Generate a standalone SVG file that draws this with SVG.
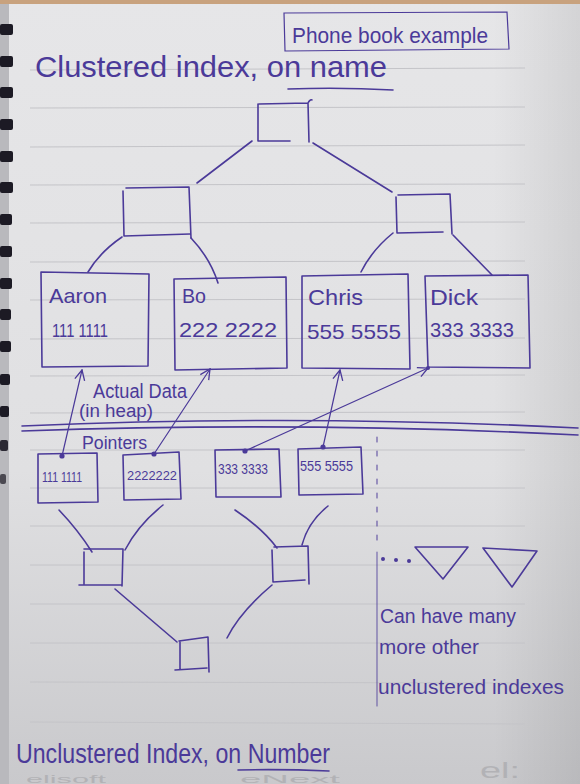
<svg xmlns="http://www.w3.org/2000/svg" width="580" height="784" viewBox="0 0 580 784">
<defs>
<linearGradient id="paper" x1="0" y1="0" x2="0" y2="1">
<stop offset="0" stop-color="#e6e6e8"/>
<stop offset="0.6" stop-color="#e0e0e2"/>
<stop offset="1" stop-color="#c9c9cc"/>
</linearGradient>
<linearGradient id="edge" x1="0" y1="0" x2="1" y2="0">
<stop offset="0" stop-color="#000" stop-opacity="0"/>
<stop offset="0.85" stop-color="#000" stop-opacity="0"/>
<stop offset="1" stop-color="#000" stop-opacity="0.08"/>
</linearGradient>
<marker id="arr" viewBox="0 0 12 12" refX="11" refY="6" markerWidth="12" markerHeight="12" markerUnits="userSpaceOnUse" orient="auto">
<path d="M1 1 L11 6 L1 11" fill="none" stroke="#4b3a99" stroke-width="1.3"/>
</marker>
<style>
.ink{fill:none;stroke:#4b3a99;stroke-width:1.6;stroke-linecap:round;stroke-linejoin:round}
.thin{fill:none;stroke:#4b3a99;stroke-width:1.2;stroke-linecap:round}
.t{font-family:"Liberation Sans Narrow","Liberation Sans",sans-serif;fill:#4b3a99}
.rule{stroke:#c4c4c8;stroke-width:1}
.hole{fill:#1c1a24}
.wm{font-family:"Liberation Sans",sans-serif;fill:#9c9ca0;opacity:0.5}
.dot{fill:#4b3a99}
</style>
</defs>
<rect x="0" y="0" width="580" height="784" fill="url(#paper)"/>
<rect x="0" y="0" width="580" height="784" fill="url(#edge)"/>
<rect x="0" y="0" width="9" height="784" fill="#b9b9bd"/>
<rect x="0" y="0" width="580" height="4" fill="#c8a27e"/>
<g id="rules">
<line class="rule" x1="30" y1="70" x2="525" y2="68"/>
<line class="rule" x1="30" y1="108" x2="525" y2="107"/>
<line class="rule" x1="30" y1="147" x2="525" y2="145"/>
<line class="rule" x1="30" y1="185" x2="525" y2="184"/>
<line class="rule" x1="30" y1="223" x2="525" y2="222"/>
<line class="rule" x1="30" y1="262" x2="525" y2="261"/>
<line class="rule" x1="30" y1="300" x2="525" y2="299"/>
<line class="rule" x1="30" y1="339" x2="525" y2="338"/>
<line class="rule" x1="30" y1="376" x2="525" y2="375"/>
<line class="rule" x1="30" y1="413" x2="525" y2="412"/>
<line class="rule" x1="30" y1="450" x2="525" y2="450"/>
<line class="rule" x1="30" y1="488" x2="525" y2="488"/>
<line class="rule" x1="30" y1="526" x2="525" y2="526"/>
<line class="rule" x1="30" y1="565" x2="525" y2="565"/>
<line class="rule" x1="30" y1="604" x2="525" y2="604"/>
<line class="rule" x1="30" y1="643" x2="525" y2="643"/>
<line class="rule" x1="30" y1="682" x2="525" y2="683"/>
<line class="rule" x1="30" y1="722" x2="525" y2="724"/>
</g>
<g id="spiral">
<rect class="hole" x="0" y="24" width="13" height="11" rx="2"/>
<rect class="hole" x="0" y="56" width="13" height="11" rx="2"/>
<rect class="hole" x="0" y="87" width="13" height="11" rx="2"/>
<rect class="hole" x="0" y="119" width="13" height="11" rx="2"/>
<rect class="hole" x="0" y="151" width="13" height="11" rx="2"/>
<rect class="hole" x="0" y="182" width="13" height="11" rx="2"/>
<rect class="hole" x="0" y="214" width="12" height="11" rx="2"/>
<rect class="hole" x="0" y="246" width="12" height="11" rx="2"/>
<rect class="hole" x="0" y="278" width="12" height="11" rx="2"/>
<rect class="hole" x="0" y="309" width="11" height="11" rx="2"/>
<rect class="hole" x="0" y="341" width="11" height="11" rx="2"/>
<rect class="hole" x="0" y="374" width="10" height="11" rx="2"/>
<rect class="hole" x="0" y="406" width="9" height="11" rx="2"/>
<rect class="hole" x="0" y="440" width="8" height="11" rx="2" opacity="0.9"/>
<rect class="hole" x="0" y="474" width="6" height="10" rx="2" opacity="0.7"/>
</g>
<g id="title">
<path class="thin" d="M284 13 L507 12 L509 49 L285 51 Z"/>
<text class="t" x="292" y="43" font-size="22" textLength="196" lengthAdjust="spacingAndGlyphs">Phone book example</text>
</g>
<g id="heading-clustered">
<text class="t" x="35" y="77" font-size="29" textLength="352" lengthAdjust="spacingAndGlyphs">Clustered index, on name</text>
<path class="ink" d="M288 89 Q340 87 393 90"/>
</g>
<g id="connectors">
<path class="ink" d="M252 141 L197 183"/>
<path class="ink" d="M313 143 L392 192"/>
<path class="ink" d="M122 237 Q100 252 88 272"/>
<path class="ink" d="M191 238 Q210 258 218 283"/>
<path class="ink" d="M393 233 Q372 250 361 272"/>
<path class="ink" d="M453 235 L492 275"/>
<path class="thin" d="M62 456 L82 370" marker-end="url(#arr)"/>
<path class="thin" d="M154 454 L210 369" marker-end="url(#arr)"/>
<path class="thin" d="M245 451 L428 368" marker-end="url(#arr)"/>
<path class="thin" d="M323 447 L340 370" marker-end="url(#arr)"/>
<circle class="dot" cx="62" cy="456" r="2.6"/>
<circle class="dot" cx="154" cy="454" r="2.6"/>
<circle class="dot" cx="245" cy="451" r="2.6"/>
<circle class="dot" cx="323" cy="447" r="2.6"/>
<circle class="dot" cx="428" cy="368" r="2"/>
<path class="ink" d="M59 510 Q78 530 92 552"/>
<path class="ink" d="M163 505 Q138 525 125 550"/>
<path class="ink" d="M235 510 Q262 528 277 548"/>
<path class="ink" d="M328 506 Q308 522 302 545"/>
<path class="ink" d="M115 589 L177 642"/>
<path class="ink" d="M272 585 Q240 612 227 638"/>
</g>
<g id="root">
<path class="ink" d="M259 104 L308 103 L309 142 M308 103 Q310 99 312 100 M258 104 L258 141 L290 141"/>
</g>
<g id="inner-left">
<path class="ink" d="M126 188 L189 187 L191 238 M123 191 L124 236 L190 234"/>
</g>
<g id="inner-right">
<path class="ink" d="M398 195 L450 194 L452 234 M396 197 L397 233 L443 232"/>
</g>
<g id="leaf-aaron">
<path class="ink" d="M41 272 L149 274 L148 366 L42 367 Z"/>
<text class="t" x="49" y="303" font-size="21" textLength="58" lengthAdjust="spacingAndGlyphs">Aaron</text>
<text class="t" x="52" y="337" font-size="19" textLength="56" lengthAdjust="spacingAndGlyphs">111 1111</text>
</g>
<g id="leaf-bo">
<path class="ink" d="M174 279 L286 277 L287 368 L175 370 Z"/>
<text class="t" x="182" y="303" font-size="21" textLength="24" lengthAdjust="spacingAndGlyphs">Bo</text>
<text class="t" x="179" y="337" font-size="20" textLength="98" lengthAdjust="spacingAndGlyphs">222 2222</text>
</g>
<g id="leaf-chris">
<path class="ink" d="M302 276 L408 274 L410 369 L302 368 Z"/>
<text class="t" x="308" y="305" font-size="22" textLength="55" lengthAdjust="spacingAndGlyphs">Chris</text>
<text class="t" x="307" y="339" font-size="21" textLength="94" lengthAdjust="spacingAndGlyphs">555 5555</text>
</g>
<g id="leaf-dick">
<path class="ink" d="M425 276 L528 275 L530 368 L428 367 Z"/>
<text class="t" x="430" y="305" font-size="22" textLength="48" lengthAdjust="spacingAndGlyphs">Dick</text>
<text class="t" x="430" y="337" font-size="20" textLength="84" lengthAdjust="spacingAndGlyphs">333 3333</text>
</g>
<g id="label-actual-data">
<text class="t" x="93" y="398" font-size="20" textLength="94" lengthAdjust="spacingAndGlyphs">Actual Data</text>
<text class="t" x="79" y="417" font-size="18" textLength="74" lengthAdjust="spacingAndGlyphs">(in heap)</text>
</g>
<g id="divider">
<path class="ink" d="M22 426 Q300 414 578 428"/>
<path class="ink" d="M22 431 Q300 421 578 435"/>
</g>
<g id="label-pointers">
<text class="t" x="82" y="449" font-size="18" textLength="65" lengthAdjust="spacingAndGlyphs">Pointers</text>
</g>
<g id="ptr-1">
<path class="ink" d="M38 454 L97 453 L98 502 L38 503 Z"/>
<text class="t" x="42" y="482" font-size="14" textLength="40" lengthAdjust="spacingAndGlyphs">111 1111</text>
</g>
<g id="ptr-2">
<path class="ink" d="M123 455 L179 452 L181 499 L124 500 Z"/>
<text class="t" x="127" y="480" font-size="13" textLength="50" lengthAdjust="spacingAndGlyphs">2222222</text>
</g>
<g id="ptr-3">
<path class="ink" d="M215 450 L279 449 L281 497 L216 497 Z"/>
<text class="t" x="218" y="474" font-size="14" textLength="50" lengthAdjust="spacingAndGlyphs">333 3333</text>
</g>
<g id="ptr-4">
<path class="ink" d="M298 449 L361 447 L363 494 L299 495 Z"/>
<text class="t" x="300" y="471" font-size="14" textLength="53" lengthAdjust="spacingAndGlyphs">555 5555</text>
</g>
<g id="lower-left">
<path class="ink" d="M84 549 L123 549 L122 586 M84 552 L84 584 M79 585 L121 585"/>
</g>
<g id="lower-right">
<path class="ink" d="M274 547 L308 546 L309 584 M272 550 L273 582 L305 580"/>
</g>
<g id="lower-root">
<path class="ink" d="M179 641 L208 637 L209 672 M180 641 L180 669 M175 670 L207 668"/>
</g>
<g id="separator">
<line class="thin" x1="377" y1="437" x2="377" y2="540" stroke-dasharray="5 9" opacity="0.8"/>
<line class="thin" x1="377" y1="552" x2="377" y2="706" opacity="0.7"/>
</g>
<g id="more-indexes">
<circle class="dot" cx="383" cy="559" r="2"/>
<circle class="dot" cx="396" cy="560" r="2"/>
<circle class="dot" cx="409" cy="561" r="2"/>
<path class="ink" d="M415 547 L468 547 L443 579 Z"/>
<path class="ink" d="M483 548 L537 551 L512 587 Z"/>
<text class="t" x="380" y="623" font-size="20" textLength="136" lengthAdjust="spacingAndGlyphs">Can have many</text>
<text class="t" x="379" y="654" font-size="20" textLength="100" lengthAdjust="spacingAndGlyphs">more other</text>
<text class="t" x="378" y="694" font-size="20" textLength="186" lengthAdjust="spacingAndGlyphs">unclustered indexes</text>
</g>
<g id="watermark">
<text class="wm" x="26" y="783" font-size="11" textLength="80" lengthAdjust="spacingAndGlyphs">elisoft</text>
<text class="wm" x="240" y="783" font-size="11" textLength="100" lengthAdjust="spacingAndGlyphs">eNext</text>
<text class="wm" x="480" y="778" font-size="22" textLength="40" lengthAdjust="spacingAndGlyphs">el:</text>
</g>
<g id="heading-unclustered">
<text class="t" x="16" y="763" font-size="27" textLength="314" lengthAdjust="spacingAndGlyphs">Unclustered Index, on Number</text>
<path class="ink" d="M238 770 Q283 769 329 771"/>
</g>
</svg>
